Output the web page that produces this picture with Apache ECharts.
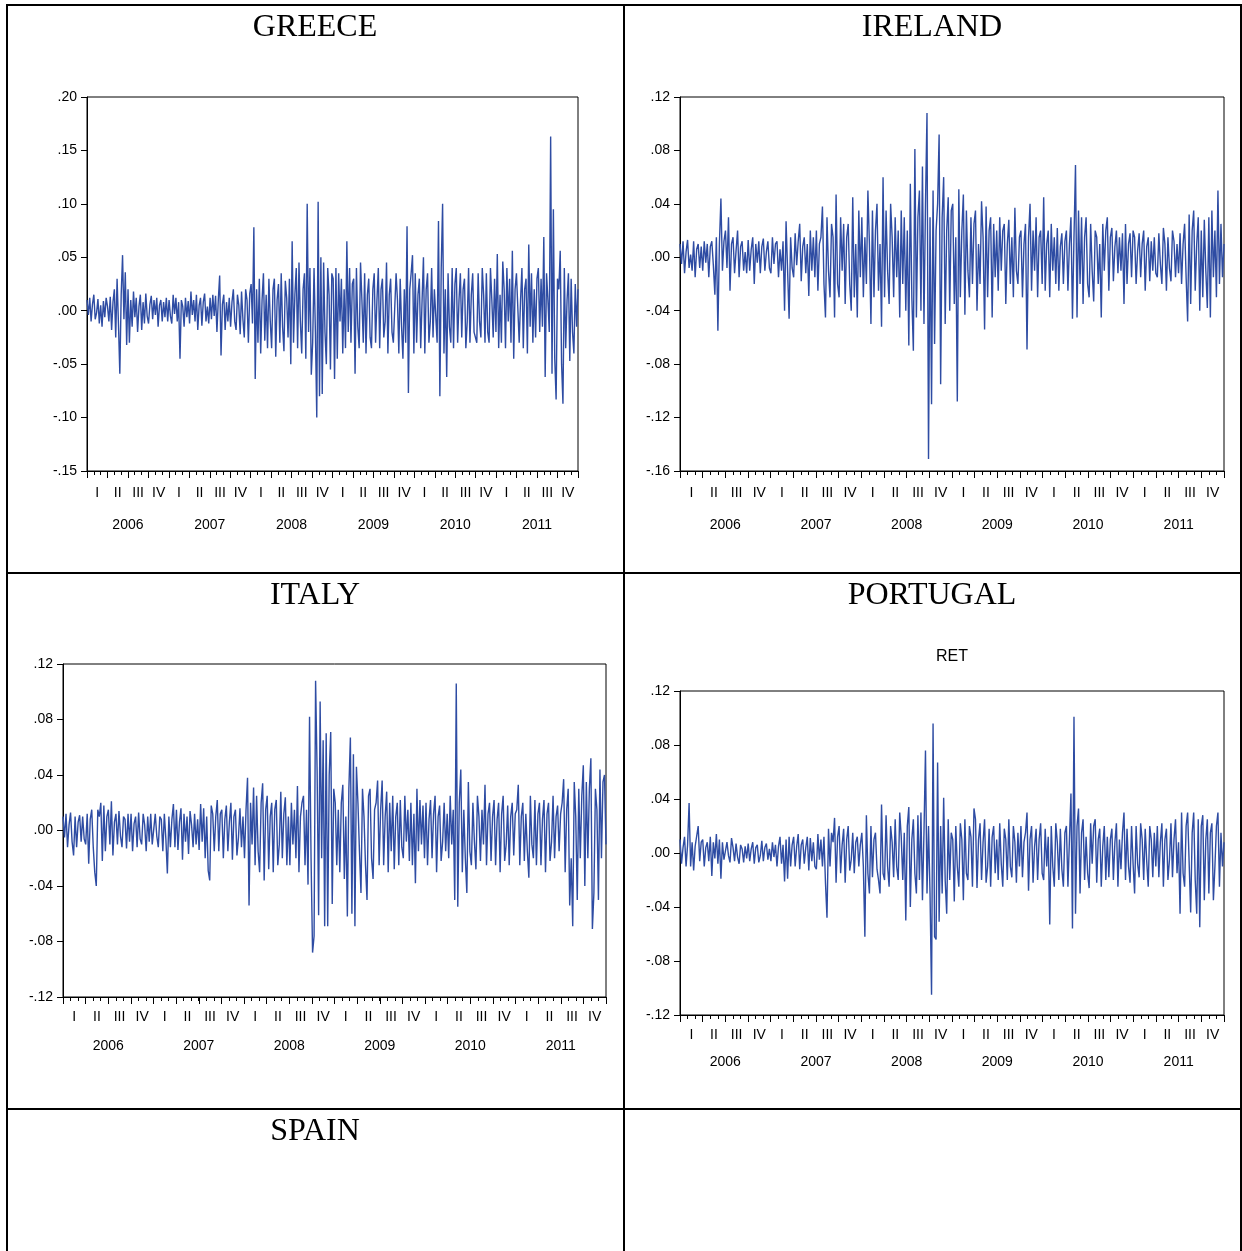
<!DOCTYPE html>
<html><head><meta charset="utf-8">
<script src="https://cdn.jsdelivr.net/npm/echarts@6/dist/echarts.min.js"></script>
<style>html,body{margin:0;padding:0;background:#fff}#c{width:1242px;height:1251px}</style>
</head><body><div id="c"></div>
<script>
const years = ['2006','2007','2008','2009','2010','2011'];
const quarterNames = ['I','II','III','IV'];
const monthsPerQuarter = 3;

const greece = [
 .01,-.004,.012,-.01,.006,.015,-.008,-.002,.011,-.012,.005,-.015,.009,-.006,.012,
 .004,-.01,.013,-.018,.008,.02,-.025,.03,-.012,-.059,.015,.052,-.008,.036,-.032,
 .02,-.03,.01,-.015,.018,-.006,.012,-.02,.004,.015,-.018,.008,-.012,.016,-.005,
 -.012,.006,.014,-.008,.01,-.004,.012,-.015,.005,.01,-.01,.008,-.006,.012,-.01,
 .01,-.005,-.012,.015,-.003,.012,-.01,.008,-.045,.01,.004,-.015,.012,-.006,.009,
 -.012,.018,-.004,.01,-.01,.015,-.018,.005,.012,-.014,.008,.016,-.01,.004,-.012,
 .012,-.008,.015,-.005,.014,-.02,.01,.033,-.042,.006,.015,-.018,.008,-.01,.012,
 -.015,.008,.02,-.01,-.018,.015,.005,-.022,.018,-.008,-.025,.02,.01,-.03,.016,
 .025,-.012,.078,-.064,.02,-.03,.03,-.04,.01,.035,-.028,.015,-.035,.03,-.01,
 -.035,.02,.03,-.043,.01,.025,-.03,.035,-.015,-.038,.028,.012,-.025,.03,-.05,
 .065,-.03,.015,.04,-.035,.045,-.01,-.04,.02,.035,-.045,.1,-.02,.04,-.06,
 -.03,.04,-.02,-.1,.102,-.08,.05,-.078,.045,-.02,-.05,.04,.015,-.055,.035,
 .03,-.064,.04,-.045,.035,-.01,.03,-.04,.02,-.035,.065,-.02,.04,-.03,.025,
 .03,-.059,.04,-.015,-.035,.045,.01,-.03,.035,-.04,.015,.03,-.025,-.035,.02,
 .035,-.03,.01,.04,-.035,.02,.03,-.025,-.01,.045,-.04,.015,.03,-.02,-.03,
 -.03,.035,.01,-.04,.03,-.015,-.045,.02,-.03,.079,-.077,.02,.035,.052,-.04,
 .035,-.03,.015,.03,-.035,.01,.05,-.04,.02,.035,-.03,-.01,.04,-.025,.02,
 .02,-.03,.084,-.08,.04,.1,-.04,.02,-.062,.035,-.015,-.03,.04,-.035,.025,
 .04,-.03,.01,.035,-.025,.02,.03,-.035,-.01,.04,-.03,.015,.035,-.02,-.025,
 -.03,.035,-.01,-.025,.04,.015,-.03,.035,-.02,-.03,.04,.01,-.025,.03,-.02,
 .053,-.035,.015,-.03,.046,.02,-.035,.04,-.01,.03,-.03,.056,-.045,.02,.035,
 .035,-.03,.01,.04,-.035,.02,.03,-.04,.062,-.015,.035,-.03,.02,-.025,.03,
 .04,-.02,.03,-.015,.069,-.062,.035,.01,-.02,.163,-.059,.095,-.045,-.083,.03,
 .02,.056,-.05,-.087,.04,-.035,.01,.035,-.047,.03,-.02,-.04,.025,-.015,.02
];
const ireland = [
 .01,-.005,.012,-.012,.004,.013,-.008,.002,-.01,.012,-.015,.006,.01,-.008,.008,
 -.01,.012,-.004,.01,-.015,.008,.012,-.006,-.028,.015,-.055,.01,.044,-.01,.012,
 .02,-.008,.03,-.025,.01,.015,-.012,.005,.02,-.015,.008,.012,-.01,.004,-.012,
 .013,-.01,.006,.015,-.02,.01,-.004,.012,-.012,.008,.014,-.01,.004,.012,-.008,
 -.012,.015,-.005,.01,.012,-.015,.006,-.01,.012,-.04,.027,-.01,-.046,.015,-.008,
 -.015,.018,-.006,.012,.025,-.018,.008,.015,-.012,.01,-.029,.02,-.01,.015,-.015,
 .02,-.025,.01,.015,.038,-.02,-.045,.03,-.01,-.03,.025,.015,-.045,.047,-.02,
 -.03,.03,-.01,.025,-.035,.015,.025,-.02,-.04,.045,-.03,.01,-.045,.035,-.015,
 .03,-.03,.015,-.02,.05,.01,-.05,.035,-.03,.02,.04,-.025,.01,-.052,.06,
 -.03,.035,-.01,-.035,.04,.015,-.03,.03,-.015,.02,-.045,.035,-.02,.03,-.04,
 .02,-.066,.055,-.03,-.07,.081,-.045,.03,.05,-.04,.068,-.05,.04,.108,-.151,
 .03,-.11,.05,-.065,.02,.04,.092,-.095,.03,.06,-.05,.02,.045,-.04,.035,
 .04,-.035,.015,-.108,.051,-.03,.02,.047,-.043,.035,-.01,-.03,.03,-.02,.025,
 .035,-.04,.01,-.02,.042,.015,-.054,.038,-.03,.02,.03,-.045,.025,-.015,.02,
 -.025,.03,-.01,.02,.025,-.035,.01,.028,-.02,.015,-.03,.037,-.01,-.02,.015,
 .02,-.03,.01,.025,-.069,.015,.04,-.025,.02,-.01,.03,-.03,.015,.02,-.02,
 .045,-.025,.01,.02,-.03,.025,-.01,.015,-.02,.022,-.025,.008,.018,-.02,.012,
 .02,-.025,.01,.03,-.046,.015,.069,-.045,.035,-.02,.03,-.035,.015,.03,-.02,
 -.03,.025,-.01,-.033,.02,.015,-.02,.01,-.045,.025,-.01,.02,.03,-.025,.015,
 .022,-.018,.008,.02,-.012,.015,-.01,.018,-.035,.025,-.02,.01,.018,-.015,.02,
 .015,-.02,.005,.018,-.015,.01,.02,-.025,.008,.015,-.018,.012,-.01,.015,-.012,
 -.015,.018,-.005,-.02,.022,.01,-.025,.015,-.008,-.018,.02,.012,-.015,.01,-.012,
 .018,-.02,.01,.025,-.015,-.048,.032,-.035,.02,.035,-.025,.01,.03,-.04,.02,
 -.03,.028,-.01,-.038,.03,-.045,.035,-.015,.02,-.03,.05,-.02,.025,-.015,.01
];
const italy = [
 .01,-.005,.012,-.012,.004,.013,-.008,-.018,.01,-.012,.006,.011,-.008,.01,-.006,
 -.01,.012,-.024,.008,.015,-.012,-.03,-.04,.015,.01,.02,-.022,.018,-.015,.01,
 .015,-.01,.021,-.018,.006,.012,-.01,.014,-.004,-.012,.01,.008,-.013,.012,-.008,
 .012,-.015,.005,.01,-.012,.013,-.006,-.01,.012,.004,-.015,.01,-.008,.012,-.01,
 -.01,.012,-.004,-.012,.01,.008,-.015,.012,-.006,-.031,.01,-.012,.008,.019,-.012,
 .015,-.014,.006,.016,-.021,.012,-.008,.01,-.017,.014,.004,-.012,.012,-.01,.008,
 -.014,.019,-.008,.016,-.02,.01,-.029,-.036,.018,.012,-.015,.01,.022,-.015,.012,
 .015,-.02,.008,.018,-.015,.006,.02,-.021,.01,.015,-.018,-.005,.016,-.012,.01,
 -.02,.015,.038,-.054,.02,-.01,.031,-.025,.025,-.015,-.03,.02,.034,-.036,.015,
 .025,-.028,.01,.02,-.03,.015,.022,-.025,-.01,.028,-.02,.012,.024,-.025,.01,
 -.025,.02,-.01,.015,-.02,.032,-.03,.01,.02,.025,-.025,.015,-.039,.082,-.02,
 -.088,-.076,.108,.043,-.061,.093,-.02,.065,-.069,.07,-.069,.04,.071,-.053,.03,
 .02,-.025,.015,-.03,.02,.033,-.035,.01,-.062,.03,.067,-.06,.055,-.069,.046,
 .02,-.015,-.045,.03,.01,-.025,-.05,.025,.03,-.02,-.035,.015,.02,.036,-.025,
 .015,.036,-.025,.01,.028,-.03,.02,-.015,.025,-.028,.01,.02,-.025,.022,-.012,
 -.02,.025,-.008,.015,-.022,.02,-.025,.012,-.038,.03,-.015,.022,-.01,.018,-.02,
 .02,-.025,.008,.022,-.02,.012,.025,-.03,.01,.018,-.022,-.008,.02,-.015,.012,
 -.02,.025,-.01,.015,-.05,.106,-.055,.02,.044,-.03,.015,-.02,-.045,.035,-.015,
 -.025,.02,-.008,-.028,.025,.01,-.022,.015,-.01,.033,-.025,.012,.02,-.022,.01,
 .022,-.025,.008,.02,-.03,.012,.025,-.022,-.01,.018,-.025,.01,.02,-.018,.012,
 .015,.033,-.025,.01,.02,-.022,.012,-.015,-.034,.025,-.01,-.02,.022,-.025,.012,
 .02,-.025,.008,.022,-.03,.012,.02,-.022,-.008,.025,-.02,.01,.018,-.015,.012,
 .02,.037,-.03,.015,.03,-.054,-.02,-.069,.035,.01,-.05,.03,-.02,.025,.047,
 -.04,.035,-.02,.03,.052,-.071,-.045,.03,.015,-.05,.044,-.02,.035,.04,-.01
];
const portugal = [
 .01,-.008,.004,.012,-.01,.006,.037,-.01,.008,-.013,.005,.006,.02,-.006,.008,
 .01,-.01,.004,.008,-.006,.012,-.017,.008,-.004,.014,-.008,.01,-.019,.008,-.005,
 -.006,.008,-.002,-.007,.011,.004,-.006,.007,-.003,-.008,.006,.003,-.007,.005,-.004,
 .007,-.006,.003,.008,-.008,.004,.006,-.007,-.002,.009,-.006,.004,.007,-.005,.003,
 -.006,.008,-.003,.006,-.01,.005,.012,-.008,.006,-.021,.01,-.019,.012,-.01,.006,
 .012,-.01,.005,.014,-.012,.006,.01,-.008,.004,.012,-.013,.011,-.006,.008,-.01,
 -.012,.014,-.005,.01,-.01,.012,-.022,-.048,.018,-.01,.015,.008,.026,-.022,.012,
 .02,-.015,.006,.018,-.022,.01,.02,-.013,-.005,.015,-.015,.008,.012,-.01,.006,
 .015,-.01,-.062,.028,-.015,-.03,.02,-.018,.01,.015,-.012,-.02,-.03,.036,-.015,
 -.02,.028,-.01,-.025,.02,.008,-.018,.025,-.01,-.02,.03,.012,-.02,.015,-.05,
 .02,.034,-.04,.01,.025,-.015,-.03,.028,-.02,.03,-.035,.015,.076,-.03,.02,
 -.03,-.105,.096,-.062,-.064,.067,-.051,.02,-.03,.041,-.02,-.045,.025,-.02,.015,
 .01,-.036,.02,-.01,-.025,.022,.01,-.035,.025,-.015,-.02,.02,.012,-.025,.033,
 .025,-.026,.01,.022,-.02,.008,.025,-.022,-.01,.018,-.025,.012,.02,-.015,.01,
 -.02,.022,-.008,-.025,.018,.01,-.02,.025,-.01,-.018,.02,.008,-.022,.015,-.01,
 .02,-.018,.008,.015,.03,-.028,.01,.02,-.022,.005,.018,-.02,.01,.022,-.015,
 -.02,.018,-.01,.012,-.053,.02,-.01,-.025,.022,.008,-.02,.018,-.012,-.025,.015,
 .02,-.025,.01,.044,-.056,.101,-.045,.02,.033,-.03,.015,.025,-.02,.012,-.015,
 -.026,.022,-.008,.02,.025,-.022,.01,.018,-.025,.005,.02,-.02,.012,-.018,.01,
 .018,-.02,.008,.022,-.025,.01,-.012,.015,.03,-.02,.018,-.01,-.022,.02,-.008,
 -.03,.02,-.008,-.018,.022,.01,-.02,.018,-.006,-.025,.02,.01,-.018,.015,-.01,
 .02,-.018,.008,.022,-.025,.01,.018,-.02,-.005,.022,-.018,.01,.025,-.015,.008,
 -.045,.03,-.015,-.025,.02,.03,.03,-.044,.015,.03,-.02,-.045,.025,-.055,.02,
 .028,-.035,.01,.025,-.03,.015,.022,-.035,-.01,.02,.03,-.025,.015,-.01,.008
];

const quarterCats = [];
years.forEach(y => quarterNames.forEach(q => quarterCats.push(q)));
const monthCats = [];
quarterCats.forEach((q, i) => { for (let m = 0; m < monthsPerQuarter; m++) monthCats.push(i + '-' + m); });

const panels = [
  {name:'GREECE', data:greece, min:-0.15, max:0.20, interval:0.05, left:87, top:97, width:491, height:374, qMargin:15, yrMargin:47},
  {name:'IRELAND', data:ireland, min:-0.16, max:0.12, interval:0.04, left:680, top:97, width:544, height:374, qMargin:15, yrMargin:47},
  {name:'ITALY', data:italy, min:-0.12, max:0.12, interval:0.04, left:63, top:664, width:543, height:333, qMargin:13, yrMargin:42},
  {name:'PORTUGAL', data:portugal, min:-0.12, max:0.12, interval:0.04, left:680, top:691, width:544, height:324, qMargin:13, yrMargin:40}
];

const fmt = v => {
  if (Math.abs(v) < 1e-9) return '.00';
  return v.toFixed(2).replace('0.', '.');
};
const txt = {fontFamily:'Liberation Sans', fontSize:14, color:'#000'};

const option = {
  animation:false,
  backgroundColor:'#fff',
  title:[
    {text:'GREECE', left:315, top:12},
    {text:'IRELAND', left:932, top:12},
    {text:'ITALY', left:315, top:580},
    {text:'PORTUGAL', left:932, top:580},
    {text:'SPAIN', left:315, top:1116}
  ].map(t => Object.assign(t, {textAlign:'center', padding:0,
      textStyle:{fontFamily:'Liberation Serif', fontSize:32, fontWeight:'normal', color:'#000'}}))
   .concat([{text:'RET', left:952, top:649, textAlign:'center', padding:0,
      textStyle:{fontFamily:'Liberation Sans', fontSize:16, fontWeight:'normal', color:'#000'}}]),
  grid:[], xAxis:[], yAxis:[], series:[],
  graphic:[]
};

panels.forEach((p, i) => {
  option.grid.push({left:p.left, top:p.top, width:p.width, height:p.height, show:true,
    borderColor:'#000', borderWidth:1, containLabel:false});
  const base = option.xAxis.length;
  option.xAxis.push({gridIndex:i, type:'category', data:p.data.map((_, k) => k), boundaryGap:false, show:false});
  option.xAxis.push({gridIndex:i, type:'category', position:'bottom', data:quarterCats, boundaryGap:true,
    axisLine:{show:true, lineStyle:{color:'#000', width:1}},
    axisTick:{show:true, length:7, interval:0, lineStyle:{color:'#000'}},
    axisLabel:Object.assign({show:true, interval:0, margin:p.qMargin}, txt),
    splitLine:{show:false}});
  option.xAxis.push({gridIndex:i, type:'category', position:'bottom', data:monthCats, boundaryGap:true,
    axisLine:{show:false},
    axisTick:{show:true, length:4, interval:0, lineStyle:{color:'#000'}},
    axisLabel:{show:false}, splitLine:{show:false}});
  option.xAxis.push({gridIndex:i, type:'category', position:'bottom', data:years, boundaryGap:true,
    axisLine:{show:false}, axisTick:{show:false},
    axisLabel:Object.assign({show:true, interval:0, margin:p.yrMargin}, txt),
    splitLine:{show:false}});
  option.yAxis.push({gridIndex:i, type:'value', min:p.min, max:p.max, interval:p.interval,
    axisLine:{show:true, lineStyle:{color:'#000', width:1}},
    axisTick:{show:true, length:6, lineStyle:{color:'#000'}},
    splitLine:{show:false},
    axisLabel:Object.assign({margin:10, formatter:fmt}, txt)});
  option.series.push({type:'line', xAxisIndex:base, yAxisIndex:i, data:p.data,
    symbol:'none', showSymbol:false, silent:true,
    lineStyle:{color:'#2e4ca3', width:1.4}});
});

// table borders
[[6,5,1242,5],[7,4,7,1251],[624,4,624,1251],[1241,4,1241,1251],[6,573,1242,573],[6,1109,1242,1109]]
 .forEach(l => option.graphic.push({type:'line', shape:{x1:l[0], y1:l[1], x2:l[2], y2:l[3]},
   style:{stroke:'#000', lineWidth:2}, silent:true}));

const chart = echarts.init(document.getElementById('c'), null, {renderer:'canvas'});
chart.setOption(option);
</script>
</body></html>
